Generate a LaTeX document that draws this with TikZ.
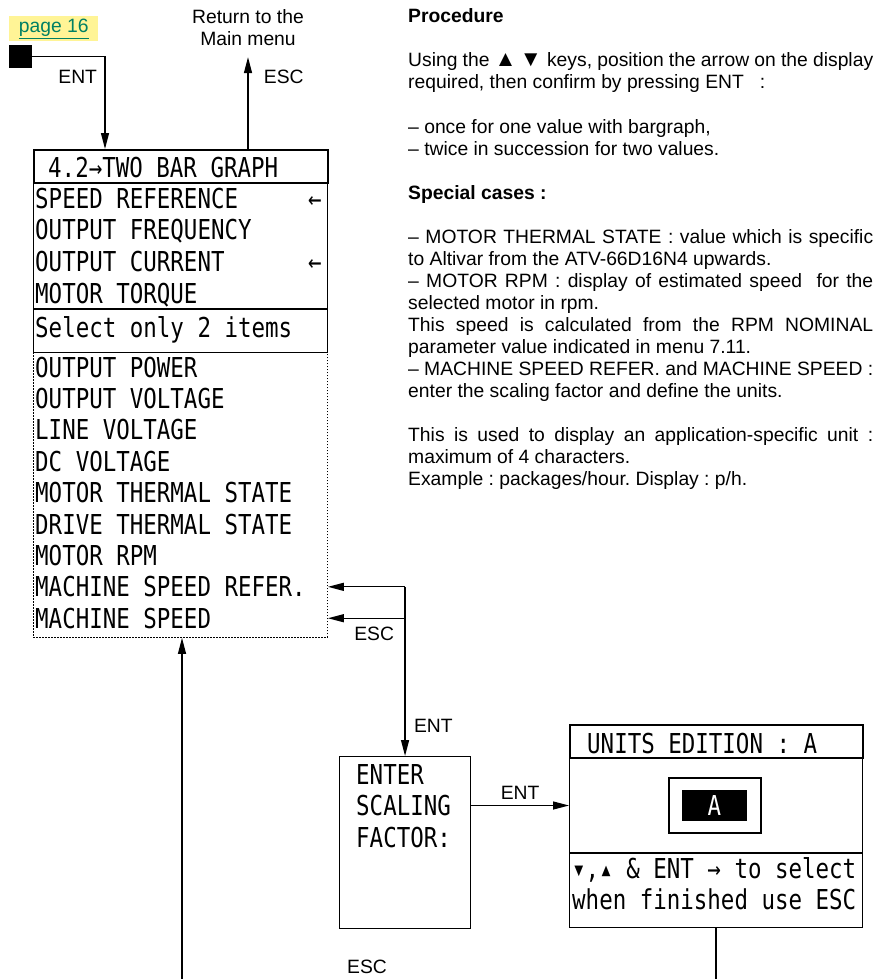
\documentclass[tikz,border=0pt]{standalone}
\usepackage{fontspec}
\setmainfont{Liberation Sans}
\newfontfamily\lcdfam[FakeStretch=0.82]{DejaVu Sans Mono}
\usetikzlibrary{arrows.meta,positioning,calc}
\definecolor{pageyellow}{RGB}{255,244,150}
\definecolor{pagegreen}{RGB}{0,128,100}
\newcommand{\lcd}{\lcdfam\fontsize{27.4}{31.5}\selectfont}
\newcommand{\txt}{\fontsize{19.3}{22}\selectfont\frenchspacing}
\newcommand{\keyup}{\scalebox{1.15}{▲}}
\newcommand{\keydown}{\scalebox{1.15}{▼}}

\begin{document}
\begin{tikzpicture}[x=1pt,y=-1pt,>={Triangle[length=16pt,width=8pt]},
  every node/.style={font=\txt},
  lcdline/.style={font=\lcd,anchor=base west,inner sep=0},
  txtline/.style={anchor=base west,inner sep=0},
  box/.style={draw,line width=1.1pt,anchor=north west,inner sep=0},
  thickbox/.style={box,line width=2.4pt},
  conn/.style={->,line width=1.3pt}]
\useasboundingbox (0,0) rectangle (875,979);

% link back and top labels
\node[fill=pageyellow,text=pagegreen,minimum width=89,minimum height=25,anchor=north west,inner sep=0] (pg) at (9,16) {\underline{page 16}};
\node[fill=black,minimum size=23,anchor=north west,inner sep=0] (sq) at (9,45) {};
\node[align=center] (ret) at (248,27.5) {Return to the\\Main menu};

% menu 4.2
\node[thickbox,minimum width=294,minimum height=33] (hdr) at (33,149) {};
\node[lcdline] (title) at (48,177) {4.2→TWO BAR GRAPH};
\node[box,minimum width=294,minimum height=170] (sel) at (33,182) {};
\draw[line width=2.4pt] (sel.west |- 0,309) -- (sel.east |- 0,309);
\foreach \t [count=\i] in {SPEED REFERENCE,OUTPUT FREQUENCY,OUTPUT CURRENT,MOTOR TORQUE}
  \node[lcdline] (s\i) at (35,{208+31.7*(\i-1)}) {\t};
\node[lcdline,anchor=base] (pick1) at (315,208) {←};
\node[lcdline,anchor=base] (pick2) at (315,271.4) {←};
\node[lcdline] (hint) at (35,337) {Select only 2 items};
\node[box,line width=0.9pt,dash pattern=on 1.2pt off 1.8pt,minimum width=294,minimum height=285] (list) at (33,352) {};
\foreach \t [count=\i] in {OUTPUT POWER,OUTPUT VOLTAGE,LINE VOLTAGE,DC VOLTAGE,MOTOR THERMAL STATE,DRIVE THERMAL STATE,MOTOR RPM,MACHINE SPEED REFER.,MACHINE SPEED}
  \node[lcdline] (m\i) at (35,{377+31.4*(\i-1)}) {\t};

% scaling factor
\node[box,minimum width=131,minimum height=172] (ent) at (339,756) {};
\foreach \t [count=\i] in {ENTER,SCALING,FACTOR:}
  \node[lcdline] (f\i) at (356,{784+31.5*(\i-1)}) {\t};

% units edition
\node[box,minimum width=293,minimum height=203] (units) at (569,724) {};
\node[thickbox,minimum width=293,minimum height=33] (uhdr) at (569,724) {};
\node[lcdline] (utitle) at (587,753) {UNITS EDITION : A};
\draw[line width=2.4pt] (units.west |- 0,853) -- (units.east |- 0,853);
\node[draw,line width=2pt,minimum width=92,minimum height=55,inner sep=0] (aframe) at (715,805.5) {};
\node[fill=black,text=white,font=\lcd,minimum width=65,minimum height=31,inner sep=0] (abox) at (714.5,805.5) {A};
\node[lcdline] (uhelp1) at (572,878) {▾,▴ \& ENT → to select};
\node[lcdline] (uhelp2) at (572,909) {when finished use ESC};

% connectors
\draw[conn] (sq.east) -| node[pos=0.61,left=4pt] {ENT} ([xshift=72pt]hdr.north west);
\draw[conn] (hdr.north -| ret) -- node[pos=0.79,right=12pt] {ESC} ([yshift=-8pt]ret.south);
\coordinate (jr) at (ent.north |- m8);
\draw[conn] (jr) -- (list.east |- m8);
\draw[conn] (ent.north |- m9) -- node[pos=0.4,below=5pt] {ESC} (list.east |- m9);
\draw[conn] (jr) -- node[pos=0.82,right=5pt] {ENT} (ent.north);
\draw[conn] (ent.east |- abox) -- node[above=2pt] {ENT} (units.west |- abox);
\coordinate (lbot) at (182,979);
\draw[conn] (lbot) -- (lbot |- list.south);
\coordinate (ubot) at (units.south |- lbot);
\draw[line width=1.3pt] (units.south) -- (ubot);
\node (esc) at (367,967) {ESC};

% procedure text
\node[txtline,font=\txt\bfseries] (p0) at (408,23) {Procedure};
\node[txtline] (p1) at (408,67) {\makebox[465pt][s]{Using the \keyup\,\keydown\ keys, position the arrow on the display}};
\node[txtline] (p2) at (408,89) {required, then confirm by pressing ENT\ \ \ :};
\node[txtline] (p3) at (408,133) {-- once for one value with bargraph,};
\node[txtline] (p4) at (408,155) {-- twice in succession for two values.};
\node[txtline,font=\txt\bfseries] (p5) at (408,199) {Special cases :};
\node[txtline] (p6) at (408,243) {\makebox[465pt][s]{-- MOTOR THERMAL STATE : value which is specific}};
\node[txtline] (p7) at (408,265) {to Altivar from the ATV-66D16N4 upwards.};
\node[txtline] (p8) at (408,287) {\makebox[465pt][s]{-- MOTOR RPM : display of estimated speed\ \ for the}};
\node[txtline] (p9) at (408,309) {selected motor in rpm.};
\node[txtline] (p10) at (408,331) {\makebox[465pt][s]{This speed is calculated from the RPM NOMINAL}};
\node[txtline] (p11) at (408,353) {parameter value indicated in menu 7.11.};
\node[txtline] (p12) at (408,375) {\makebox[465pt][s]{-- MACHINE SPEED REFER. and MACHINE SPEED :}};
\node[txtline] (p13) at (408,397) {enter the scaling factor and define the units.};
\node[txtline] (p14) at (408,441) {\makebox[465pt][s]{This is used to display an application-specific unit :}};
\node[txtline] (p15) at (408,463) {maximum of 4 characters.};
\node[txtline] (p16) at (408,485) {Example : packages/hour. Display : p/h.};
\end{tikzpicture}
\end{document}
